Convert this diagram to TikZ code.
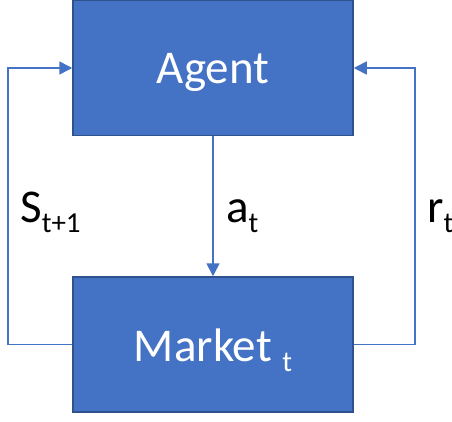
\documentclass[tikz,border=0pt]{standalone}
\usepackage{fontspec}
\setmainfont{Carlito}
\usetikzlibrary{arrows.meta}
\definecolor{boxfill}{HTML}{4472C4}
\definecolor{boxedge}{HTML}{2F528F}
\definecolor{linecol}{HTML}{4472C4}
\newcommand{\bigtxt}{\fontsize{47}{52}\selectfont}
\newcommand{\subtxt}[1]{\raisebox{-10pt}{\fontsize{29}{31}\selectfont #1}}
\tikzset{
  blockbox/.style={draw=boxedge, fill=boxfill, line width=1.5pt, minimum width=280pt, minimum height=135pt, inner sep=0pt},
  blocktext/.style={text=white, anchor=base, inner sep=0pt, font=\bigtxt},
  flow/.style={draw=linecol, line width=1.6pt},
  flowarrow/.style={flow, -{Triangle[length=13pt,width=13pt]}},
  lbl/.style={text=black, anchor=base west, inner sep=0pt, font=\bigtxt}
}
\begin{document}
\begin{tikzpicture}[x=1pt,y=-1pt]
\useasboundingbox (0,0) rectangle (452,421);
\node[blockbox] (agent) at (213,68) {};
\node[blockbox] (market) at (213,344.5) {};
\node[blocktext] (agenttext) at (213,83) {Agent};
\node[blocktext] (markettext) at (213,361.5) {Market\subtxt{\hspace{4pt} t}};
\coordinate (lb) at (8,344.5);
\coordinate (lt) at (8,68);
\coordinate (rb) at (415,344.5);
\coordinate (rt) at (415,68);
\draw[flowarrow] (market.west) -- (lb) -- (lt) -- (agent.west);
\draw[flowarrow] (market.east) -- (rb) -- (rt) -- (agent.east);
\draw[flowarrow] (agent.south) -- (market.north);
\node[lbl] (slbl) at (20,222) {S\subtxt{t+1}};
\node[lbl] (albl) at (226,222) {a\subtxt{t}};
\node[lbl] (rlbl) at (427,222) {r\subtxt{t}};
\end{tikzpicture}
\end{document}
